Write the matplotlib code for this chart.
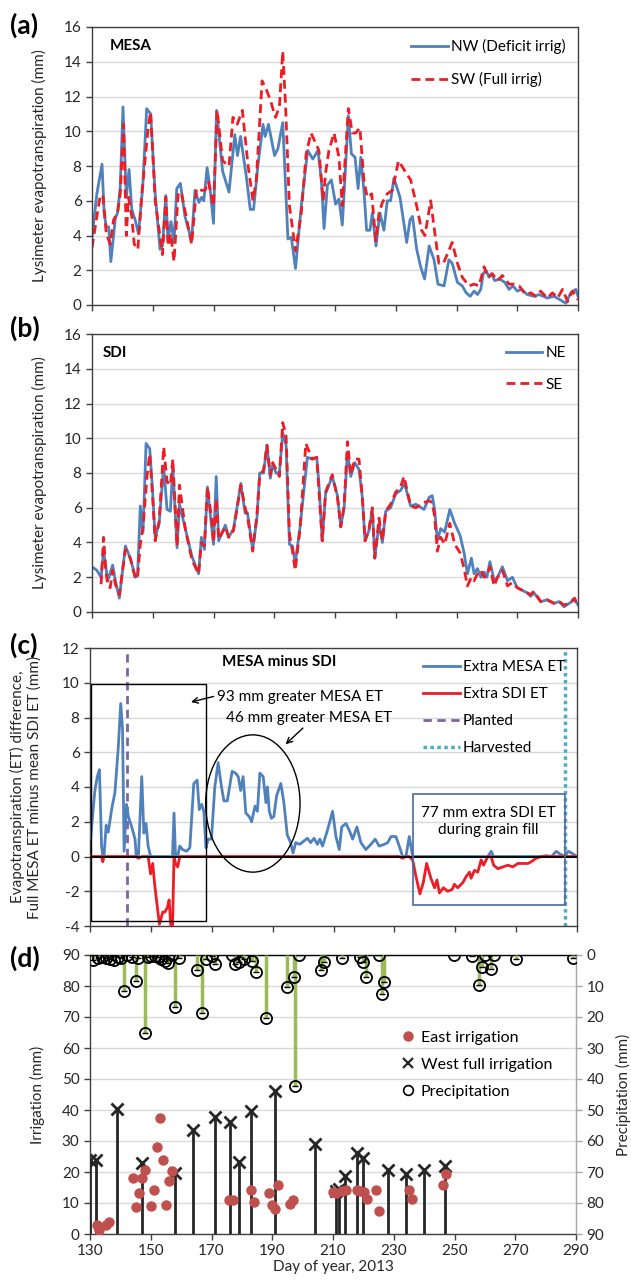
import matplotlib
matplotlib.use('Agg')
import matplotlib.pyplot as plt
import numpy as np
from matplotlib.patches import Rectangle, Ellipse
from matplotlib.lines import Line2D

plt.rcParams['font.family'] = ['Lato', 'DejaVu Sans']
plt.rcParams['axes.unicode_minus'] = False

# ---- (a) MESA lysimeters ----
nw_day = [130, 131.6, 133.3, 134, 134.7, 135.5, 136.2, 137.7, 138.4, 139.3, 140.2, 141.3, 142.2, 143.1,
          144.2, 145.3, 146.7, 148, 149.3, 150.8, 152.4, 153.2, 154.3, 155, 156, 157, 157.9, 159.1, 160.6,
          162.8, 163.9, 165.2, 166.1, 166.8, 167.9, 168.8, 170, 171, 173, 175.1, 177, 177.9, 178.9, 180.8,
          182.1, 183.2, 184.6, 186.3, 187, 188.1, 190.1, 191.2, 192.8, 194.5, 195.6, 197, 198.9, 201,
          202.7, 204.4, 205.5, 206.4, 207.5, 208.8, 210.2, 211.3, 212.4, 213.3, 214.4, 215.4, 216.6, 217.6,
          218.5, 219.6, 220.4, 221.5, 222.3, 223.5, 224.8, 226.1, 227.2, 228.3, 229.4, 231.4, 233.6, 234.7,
          235.5, 236.9, 238.2, 239.5, 241, 242.6, 243.9, 245.9, 247.5, 248.6, 250.3, 251.9, 253.2, 254.5,
          255.8, 256.9, 258, 258.8, 259.7, 260.7, 261.5, 262.6, 264.2, 265.9, 267.3, 268.6, 270, 271.4,
          273.3, 275.5, 277.2, 279.9, 282.1, 284.1, 286, 287.6, 289.3, 290]
nw_et = [3.9, 6.4, 8.1, 5.3, 4.5, 4.5, 2.5, 5.0, 5.3, 6.8, 11.4, 6.2, 7.8, 5.5,
         4.9, 4.1, 6.8, 11.3, 11.0, 6.4, 3.2, 3.4, 6.3, 3.7, 4.8, 3.6, 6.7, 7.0, 5.1,
         3.7, 6.6, 5.9, 6.2, 6.0, 7.9, 6.8, 4.7, 11.2, 7.7, 6.5, 9.8, 8.6, 9.7, 7.4,
         5.5, 5.5, 8.0, 10.4, 9.7, 10.4, 8.6, 9.0, 10.5, 3.8, 3.9, 2.1, 5.7, 8.9,
         8.4, 8.9, 7.2, 4.4, 6.9, 7.2, 5.8, 6.1, 4.6, 7.4, 10.9, 8.7, 8.5, 6.7,
         8.5, 6.4, 4.3, 4.3, 5.3, 3.4, 5.3, 4.3, 6.0, 6.0, 7.3, 6.2, 3.6, 4.9,
         5.1, 3.2, 2.2, 1.5, 3.4, 2.6, 1.2, 1.1, 2.6, 2.4, 1.3, 1.1, 0.7, 0.5,
         0.8, 0.6, 0.9, 1.8, 2.0, 1.6, 1.8, 1.4, 1.5, 1.3, 0.9, 1.1, 0.8, 0.9,
         0.6, 0.5, 0.6, 0.4, 0.5, 0.3, 0.1, 0.7, 0.9, 0.5]
sw_day = [130, 131.6, 132.7, 133.6, 134.7, 136, 137.1, 138.4, 139.3, 140.4, 141.3, 142, 143.1, 143.9,
          145.1, 146.4, 148.6, 149.3, 150.8, 153.2, 154.3, 155.1, 155.9, 157, 158.4, 159.5, 162.8, 164.4,
          166.1, 167.2, 168.3, 170, 171.2, 173, 175.1, 176.4, 177.8, 179.5, 181.4, 183, 184.1, 186, 187.4,
          188.7, 190.4, 191.7, 192.8, 193.7, 195, 196.1, 197, 198.9, 200.5, 202.1, 204.7, 206.1, 206.9,
          208, 209.7, 211.3, 212.4, 213.3, 214.4, 215.7, 216.8, 218.2, 219.5, 220.6, 222.1, 223.4, 224.5,
          225.6, 227.2, 228.9, 230.9, 232.7, 234.9, 236.9, 238.5, 239.6, 241.5, 242.6, 244.2, 245.7, 248.6,
          250.3, 251.9, 254.1, 255.8, 257.4, 259.1, 260.4, 261.8, 263.5, 265.1, 267.3, 269, 270.6, 272.8,
          274.5, 276.1, 277.7, 279.9, 281.6, 283.3, 284.9, 286.6, 288.2, 290]
sw_et = [3.3, 5.1, 6.3, 6.3, 4.1, 3.5, 4.9, 5.3, 6.4, 10.4, 4.0, 6.2, 5.1, 3.5,
         3.2, 6.4, 10.4, 11.1, 6.0, 2.9, 6.2, 3.4, 4.1, 2.5, 6.5, 6.4, 3.5, 6.7,
         6.6, 6.6, 7.1, 5.7, 11.2, 8.3, 8.0, 10.8, 10.4, 11.2, 8.0, 6.0, 7.2, 12.9, 12.4,
         11.8, 10.8, 11.4, 14.6, 11.6, 5.7, 4.3, 3.1, 5.3, 8.7, 9.9, 8.9, 6.0, 7.6,
         8.9, 9.9, 8.5, 5.7, 8.3, 11.3, 9.9, 9.9, 10.2, 7.2, 6.2, 6.4, 3.7, 5.3,
         5.9, 6.4, 6.6, 8.3, 7.8, 7.2, 5.7, 4.3, 4.0, 6.0, 4.5, 2.4, 2.4, 3.6,
         2.4, 1.6, 1.1, 1.2, 1.1, 2.2, 1.6, 1.8, 1.4, 1.7, 1.2, 1.2, 1.1, 0.6,
         0.7, 0.5, 0.8, 0.4, 0.7, 0.4, 0.9, 0.2, 0.8, 0.3]

# ---- (b) SDI lysimeters ----
ne_day = [130, 131.6, 133, 133.8, 135.2, 136.8, 137.7, 139, 141, 142.6, 144.3, 145, 145.9, 146.8, 147.8,
          149, 149.8, 150.8, 152.1, 153.6, 154.7, 155.8, 156.6, 158, 158.8, 160.7, 162.9, 165.1, 166, 167,
          168, 169.5, 170, 170.9, 171.7, 173.9, 175, 176.6, 179, 180.4, 181.2, 182.9, 184.3, 185.2, 186.5,
          187.6, 188.7, 189.5, 190.6, 191.7, 192.8, 193.9, 195, 196, 196.9, 198.5, 200.9, 202.5, 204,
          204.7, 205.8, 206.9, 209.1, 210.8, 211.9, 213, 214.1, 215.2, 216.5, 217.9, 219, 219.9, 221.2,
          222.3, 223.1, 224.5, 225.6, 226.7, 228.3, 230, 231.6, 232.9, 234.9, 236.6, 239.3, 241, 242,
          242.8, 243.7, 244.8, 246.1, 247.8, 249.4, 251.2, 252.5, 253.6, 254.9, 255.8, 256.9, 258, 259.1,
          260, 261, 262.4, 263.5, 265.1, 266.8, 268.4, 270, 271.1, 273.3, 274.4, 275.5, 277.7, 279.9,
          282.1, 283.8, 285.4, 287.1, 288.9, 290]
ne_et = [2.6, 2.4, 2.0, 3.5, 1.8, 2.7, 1.8, 0.8, 3.8, 3.1, 2.0, 2.1, 6.1, 4.6, 9.7,
         9.4, 7.4, 4.3, 5.1, 8.4, 5.9, 5.8, 8.4, 3.7, 6.2, 4.8, 3.2, 2.2, 4.3, 3.6,
         7.2, 4.7, 3.9, 7.8, 4.1, 5.0, 4.3, 4.8, 7.4, 5.7, 5.7, 3.6, 5.4, 8.0, 8.0,
         9.6, 7.7, 8.5, 8.0, 8.0, 10.3, 9.6, 3.9, 3.8, 2.8, 4.9, 8.9, 8.8, 8.9,
         7.4, 4.1, 6.8, 7.8, 6.7, 4.9, 6.0, 9.2, 7.8, 8.6, 8.2, 6.6, 4.1, 4.7,
         5.9, 3.1, 5.1, 4.0, 5.8, 6.0, 6.8, 7.0, 7.4, 6.1, 6.2, 5.9, 6.6, 6.7,
         5.9, 4.1, 4.8, 4.6, 5.9, 5.1, 4.4, 3.4, 2.2, 3.1, 2.2, 2.5, 2.0, 2.3,
         2.0, 2.9, 1.8, 2.0, 2.6, 1.8, 2.0, 1.4, 1.3, 1.1, 0.9, 1.1, 0.6, 0.7,
         0.5, 0.6, 0.3, 0.5, 0.7, 0.4]
se_day = [133, 133.8, 134.5, 135.2, 136, 136.8, 137.7, 139, 141, 142.6, 144.3, 145, 145.9, 146.8, 148.2,
          149, 150, 150.8, 152.1, 153.6, 154.7, 155.8, 156.6, 158, 158.8, 160.7, 162.9, 165.1, 166, 167,
          168, 169.5, 170, 170.9, 171.7, 173.9, 175, 176.6, 179, 180.4, 181.2, 182.9, 184.3, 185.2, 186.5,
          187.6, 188.7, 189.5, 190.6, 191.7, 192.8, 193.9, 195, 196, 196.9, 198.5, 200.4, 202.5, 204,
          204.7, 205.8, 206.9, 209.1, 210.8, 211.9, 213, 214.1, 215.2, 216.5, 217.9, 219, 219.9, 221.2,
          222.3, 223.1, 224.5, 225.6, 226.7, 228.3, 230, 231.6, 232.7, 234.9, 236.6, 239.3, 241, 242,
          242.8, 243.7, 244.8, 246.1, 247.8, 249.4, 251.2, 252.5, 253.6, 254.9, 255.8, 256.9, 258, 259.1,
          260, 261, 262.4, 263.5, 265.1, 266.8, 268.4, 270, 271.1, 273.3, 274.4, 275.5, 277.7, 279.9,
          282.1, 283.8, 285.4, 287.1, 288.9, 290]
se_et = [1.6, 4.3, 2.5, 1.5, 1.4, 2.4, 1.6, 1.0, 3.6, 3.1, 1.9, 2.0, 3.9, 4.9, 8.0,
         9.1, 6.5, 4.1, 5.2, 9.5, 7.5, 7.3, 8.8, 3.8, 7.3, 4.8, 3.0, 2.2, 4.0, 3.8,
         7.2, 5.2, 4.0, 6.5, 4.2, 4.9, 4.3, 4.7, 7.3, 6.0, 5.5, 3.5, 5.6, 7.8, 8.2,
         9.6, 7.9, 8.6, 8.2, 7.8, 10.9, 10.1, 4.5, 3.5, 2.4, 4.8, 9.7, 8.8, 8.9,
         7.0, 4.1, 6.9, 7.9, 6.6, 4.9, 6.1, 9.8, 7.9, 8.8, 8.8, 6.6, 4.1, 4.8,
         6.0, 3.1, 5.4, 4.1, 5.8, 6.2, 6.9, 7.2, 7.8, 6.1, 6.0, 6.3, 6.4, 6.3,
         5.5, 3.5, 4.3, 3.9, 5.1, 3.9, 3.4, 2.5, 1.5, 2.0, 1.8, 2.2, 2.4, 2.0,
         2.1, 2.6, 1.5, 2.0, 2.4, 1.5, 1.7, 1.4, 1.3, 1.1, 1.0, 1.2, 0.6, 0.7,
         0.5, 0.6, 0.4, 0.5, 0.8, 0.3]

# ---- (c) MESA minus SDI ----
diff_day = [130.2, 131.6, 132.4, 133.1, 133.8, 134.2, 134.6, 135.3, 136, 137.1, 138.2, 139.3, 140.1, 140.7,
            141.2, 142, 142.6, 143.7, 144.8, 145.2, 145.9, 147, 147.7, 148.4, 149.1, 149.9, 150.6, 151.3,
            152.8, 153.9, 154.6, 155.5, 156, 156.5, 157.1, 157.6, 158.1, 158.8, 159.5, 160.4, 161.7, 162.8,
            164.1, 165.2, 165.9, 166.7, 167.4, 168.1, 168.8, 169.9, 171, 172.1, 173.2, 174, 175.1, 176.7,
            177.8, 178.7, 179.5, 180.3, 181.2, 182.3, 183.1, 184.2, 185, 185.8, 186.9, 187.8, 188.3, 188.9,
            189.6, 190.4, 191.3, 192.7, 193.7, 194.8, 195.9, 196.7, 197.6, 198.9, 200.3, 201.4, 202.5,
            203.6, 204.7, 205.5, 206.4, 208, 209.7, 210.8, 211.9, 212.7, 214.1, 215.2, 216.3, 217.7, 219,
            220.6, 222.3, 223.7, 225, 226.7, 227.8, 228.9, 230.5, 231.6, 232.7, 233.8, 234.9, 236, 237.1,
            238.4, 239.5, 240.6, 242, 243.2, 244, 244.8, 246.1, 247.5, 249, 249.7, 250.8, 252.5, 253.6,
            254.7, 255.2, 256.3, 257.4, 258.5, 259.3, 260.7, 261.8, 262.6, 264, 265.7, 267.3, 268.9, 270.6,
            272.2, 273.9, 275, 276.6, 278.3, 279.9, 281.6, 283.2, 284.3, 286, 287.1, 288.2, 290]
diff_et = [1.05, 3.8, 4.6, 5.0, 0.6, -0.3, 0.0, 1.8, 1.4, 2.7, 3.7, 6.3, 8.8, 7.3,
           0.3, 3.0, 2.3, 1.7, 1.0, 0.0, -0.1, 4.6, 1.35, 1.9, 0.6, -1.0, -0.4, -1.7,
           -3.9, -3.2, -3.2, -2.9, -2.5, -3.9, -4.2, 2.5, -0.4, -0.6, 0.6, 0.4, 0.3, 0.5,
           4.2, 4.4, 2.7, 3.0, 2.6, 0.5, 1.0, 1.0, 4.0, 5.4, 4.0, 3.2, 3.2, 4.9,
           4.8, 4.6, 3.8, 4.6, 2.5, 2.3, 2.0, 2.9, 2.6, 4.8, 4.6, 3.1, 4.0, 2.6,
           2.2, 2.3, 3.5, 4.2, 3.1, 1.25, 0.8, 0.2, 0.8, 0.7, 0.9, 1.05, 0.8,
           1.05, 0.7, 1.0, 0.6, 1.5, 2.6, 1.15, 0.4, 1.7, 1.9, 1.5, 1.0, 1.7, 0.8,
           0.4, 0.7, 1.0, 0.6, 0.7, 0.8, 1.15, 1.15, 0.6, -0.1, 0.0, 1.15, -0.2, -1.15,
           -2.15, -1.5, -0.4, -1.25, -1.8, -1.35, -2.1, -1.8, -2.0, -1.9, -1.6, -1.8, -1.5, -1.15,
           -0.9, -1.25, -0.8, -0.9, -0.2, -0.5, 0.0, 0.3, -0.5, -0.7, -0.6, -0.5, -0.6, -0.4,
           -0.4, -0.4, -0.3, -0.1, 0.0, 0.05, 0.0, 0.3, 0.15, 0.0, 0.3, 0.2, 0.0]
planted_day = 142
harvest_day = 286

# ---- (d) irrigation and precipitation ----
west_day = [130, 132, 139, 147, 158, 164, 171, 176, 179, 183, 191, 204, 211, 212, 214, 218, 220, 228,
            234, 240, 247]
west_mm = [23.9, 23.9, 40.2, 22.8, 19.8, 33.5, 37.8, 36.2, 23.3, 39.7, 46.1, 29.0, 14.0, 14.4, 18.7,
           26.0, 24.5, 20.7, 19.4, 20.7, 22.0]
east_day = [132.2, 133, 135.3, 136.1, 144, 145.1, 146, 147.1, 148.2, 150, 151, 152.1, 153.1, 154.1,
            155.1, 156.1, 157, 175.7, 177, 183, 183.9, 188.8, 189.9, 190.9, 192, 195.9, 196.9,
            210, 211, 212.9, 214.2, 217.8, 218.9, 220.2, 221.1, 224, 225.1, 235, 236.1, 246.1, 247.1]
east_mm = [2.9, 1.3, 2.9, 4.0, 18.2, 8.8, 13.3, 18.2, 20.6, 9.0, 14.2, 28.0, 37.5, 23.9,
           9.3, 17.2, 20.3, 11.0, 11.0, 14.2, 10.4, 13.3, 9.4, 8.0, 15.7, 9.6, 11.0,
           13.5, 13.1, 14.0, 14.2, 14.2, 14.0, 13.7, 11.2, 14.2, 7.5, 14.2, 11.2, 15.8, 19.4]
precip_day = [131.1, 132.5, 134.1, 135.2, 136.6, 138, 139.3, 140.2, 141.3, 142.1, 143.7, 145, 145.9, 148,
              149.2, 150.1, 151.4, 152.3, 153.4, 154.7, 155.8, 157.1, 158, 159.3, 165.1, 167, 168.1, 170,
              171.1, 176.6, 177.7, 179.1, 180.7, 183.3, 184.5, 188.1, 195, 197.1, 197.5, 198.8, 205.9, 207,
              213, 218.9, 220, 220.8, 225, 226, 226.8, 249.8, 255.9, 258.1, 259, 260, 261.9, 263, 270.3,
              289.1]
precip_mm = [1.5, 0.9, 0.5, 1.1, 1.3, 1.5, 0.5, 1.1, 11.7, 0.0, 0.7, 8.3, 0.9, 25.3,
             0.7, 0.4, 0.2, 0.7, 1.3, 2.0, 2.7, 0.0, 16.9, 0.9, 4.8, 18.7, 1.3, 0.2,
             2.9, 0.0, 2.9, 2.4, 1.3, 1.9, 5.5, 20.4, 10.4, 7.2, 42.3, 0.0, 4.7, 2.4,
             1.1, 0.8, 2.4, 7.0, 0.0, 12.6, 8.6, 0.1, 0.3, 9.8, 3.8, 0.1, 4.6, 0.1, 1.2,
             0.9]

BLUE = '#4F81BD'
RED = '#EE1C24'
GRID = '#D9D9D9'
SPINE = '#404040'
TXT = '#262626'
FS = 11

fig = plt.figure(figsize=(6.31, 12.84), dpi=100)


def fpos(l, t, r, b):
    return [l / 631, 1 - b / 1284, (r - l) / 631, (b - t) / 1284]


def style(ax, ymin, ymax, step, xlabels=False):
    ax.set_xlim(130, 290)
    ax.set_ylim(ymin, ymax)
    ax.set_xticks(range(130, 291, 20))
    ax.set_yticks(np.arange(ymin, ymax + 0.01, step))
    ax.grid(axis='y', color=GRID, lw=1)
    ax.set_axisbelow(True)
    ax.tick_params(direction='out', length=4, width=1, color=SPINE, labelcolor=TXT, labelsize=FS)
    if not xlabels:
        ax.tick_params(axis='x', labelbottom=False)
    for s in ax.spines.values():
        s.set_color(SPINE)
        s.set_linewidth(1)


dash = (0, (3.2, 1.8))
leg_kw = dict(loc='upper right', frameon=False, fontsize=11, handlelength=2.4, handletextpad=0.2,
              borderaxespad=0.4)

# (a)
ax_a = fig.add_axes(fpos(92, 27, 578, 305))
style(ax_a, 0, 16, 2)
ax_a.plot(nw_day, nw_et, color=BLUE, lw=2, label='NW (Deficit irrig)')
ax_a.plot(sw_day, sw_et, color=RED, lw=2, ls=dash, label='SW (Full irrig)')
ax_a.legend(labelspacing=1.15, **leg_kw)
ax_a.text(0.037, 0.93, 'MESA', transform=ax_a.transAxes, fontsize=11, fontweight='bold', va='center')
ax_a.set_ylabel('Lysimeter evapotranspiration (mm)', fontsize=FS, color=TXT)
ax_a.yaxis.set_label_coords(-0.093, 0.5)

# (b)
ax_b = fig.add_axes(fpos(92, 334, 578, 612))
style(ax_b, 0, 16, 2)
ax_b.plot(ne_day, ne_et, color=BLUE, lw=2, label='NE')
ax_b.plot(se_day, se_et, color=RED, lw=2, ls=dash, label='SE')
ax_b.legend(labelspacing=1.15, **leg_kw)
ax_b.text(0.022, 0.93, 'SDI', transform=ax_b.transAxes, fontsize=11, fontweight='bold', va='center')
ax_b.set_ylabel('Lysimeter evapotranspiration (mm)', fontsize=FS, color=TXT)
ax_b.yaxis.set_label_coords(-0.093, 0.5)

# (c)
ax_c = fig.add_axes(fpos(90, 648, 577, 926))
style(ax_c, -4, 12, 2)
d = np.array(diff_et)
ax_c.plot(diff_day, np.maximum(d, 0), color=BLUE, lw=2, label='Extra MESA ET', zorder=3)
ax_c.plot(diff_day, np.minimum(d, 0), color=RED, lw=2, label='Extra SDI ET', zorder=3)
ax_c.axhline(0, color='black', lw=1.3, zorder=4)
ax_c.axvline(planted_day, color='#8064A2', lw=2, ls=(0, (3, 2)), label='Planted', zorder=2)
ax_c.axvline(harvest_day, color='#4BACC6', lw=2.5, ls=(0, (1, 1)), label='Harvested', zorder=2)
ax_c.legend(labelspacing=0.85, **leg_kw)
ax_c.add_patch(Rectangle((130.3, -3.7), 37.7, 13.6, fill=False, ec='black', lw=1, zorder=5))
ax_c.add_patch(Ellipse((183.5, 3.05), 31, 7.9, fill=False, ec='black', lw=1, zorder=5))
ax_c.add_patch(Rectangle((236, -2.8), 50, 6.4, fill=False, ec='#4A6A9F', lw=1.2, zorder=5))
ax_c.text(173.4, 11.2, 'MESA minus SDI', fontsize=11, fontweight='bold', va='center')
ax_c.text(171.8, 9.2, '93 mm greater MESA ET', fontsize=11, va='center')
ax_c.annotate('', xy=(162.3, 8.85), xytext=(171.5, 9.25),
              arrowprops=dict(arrowstyle='->', lw=1, color='black'))
ax_c.text(202, 7.95, '46 mm greater MESA ET', fontsize=11, va='center', ha='center')
ax_c.annotate('', xy=(193.6, 6.35), xytext=(200.6, 7.5),
              arrowprops=dict(arrowstyle='->', lw=1, color='black'))
ax_c.text(261, 2.0, '77 mm extra SDI ET\nduring grain fill', fontsize=11, ha='center', va='center',
          linespacing=1.25)
ax_c.set_ylabel('Evapotranspiration (ET) difference,\nFull MESA ET minus mean SDI ET (mm)',
                fontsize=FS, color=TXT, linespacing=1.15)
ax_c.yaxis.set_label_coords(-0.1, 0.5)

# (d)
ax_d = fig.add_axes(fpos(90, 955, 576, 1234))
style(ax_d, 0, 90, 10, xlabels=True)
ax_d.spines['top'].set_color('black')
ax_d.spines['right'].set_color('#A6A6A6')
ax_d.vlines(west_day, 0, west_mm, colors='#262626', lw=2, zorder=3)
ax_d.plot(west_day, west_mm, ls='none', marker='x', ms=8, mew=2, color='#262626', zorder=4)
ax_d.plot(east_day, east_mm, ls='none', marker='o', ms=6.5, color='#C0504D', zorder=5)
ax_d.set_ylabel('Irrigation (mm)', fontsize=FS, color=TXT)
ax_d.yaxis.set_label_coords(-0.093, 0.5)
ax_d.set_xlabel('Day of year, 2013', fontsize=FS, color=TXT, labelpad=1)

ax_p = ax_d.twinx()
ax_p.set_ylim(90, 0)
ax_p.set_yticks(range(0, 91, 10))
ax_p.tick_params(direction='out', length=4, width=1, color='#A6A6A6', labelcolor=TXT, labelsize=FS)
for s in ax_p.spines.values():
    s.set_visible(False)
ax_p.vlines(precip_day, 0, precip_mm, colors='#9BBB59', lw=2.5, zorder=2)
ax_p.plot(precip_day, precip_mm, ls='none', marker='o', ms=8, mfc='none', mec='black', mew=1.3, zorder=3)
ax_p.plot(precip_day, precip_mm, ls='none', marker='_', ms=5, mec='black', mew=1, zorder=3)
ax_p.set_ylabel('Precipitation (mm)', fontsize=FS, color=TXT, rotation=90)
ax_p.yaxis.set_label_coords(1.083, 0.5)

handles = [Line2D([], [], ls='none', marker='o', ms=6.5, color='#C0504D'),
           Line2D([], [], ls='none', marker='x', ms=7, mew=1.6, color='#262626'),
           Line2D([], [], ls='none', marker='o', ms=7, mfc='none', mec='black', mew=1.2)]
ax_p.legend(handles, ['East irrigation', 'West full irrigation', 'Precipitation'],
            loc='upper left', bbox_to_anchor=(0.612, 0.78), frameon=False, fontsize=11.5,
            handlelength=0.8, handletextpad=0.4, labelspacing=0.8)

for y, lab in [(25, '(a)'), (328, '(b)'), (645, '(c)'), (958, '(d)')]:
    fig.text(10 / 631, 1 - y / 1284, lab, fontsize=19, fontweight='bold', va='center', color='black')

fig.savefig('out.png', dpi=100)
